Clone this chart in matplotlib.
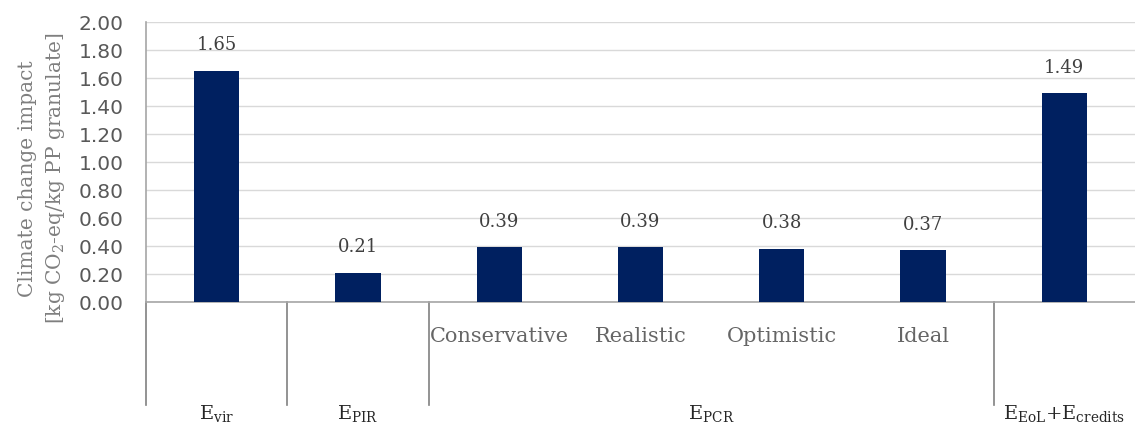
import matplotlib.pyplot as plt
from matplotlib.transforms import blended_transform_factory

plt.rcParams['font.family'] = ['DejaVu Serif']
plt.rcParams['mathtext.fontset'] = 'dejavuserif'

# data
sub_labels = ['', '', 'Conservative', 'Realistic', 'Optimistic', 'Ideal', '']
group_labels = [r'E$_{\mathrm{vir}}$', r'E$_{\mathrm{PIR}}$', r'E$_{\mathrm{PCR}}$',
                r'E$_{\mathrm{EoL}}$+E$_{\mathrm{credits}}$']
group_spans = [(0, 0), (1, 1), (2, 5), (6, 6)]
values = [1.65, 0.21, 0.39, 0.39, 0.38, 0.37, 1.49]
value_text = ['1.65', '0.21', '0.39', '0.39', '0.38', '0.37', '1.49']
yticks = [0.0, 0.2, 0.4, 0.6, 0.8, 1.0, 1.2, 1.4, 1.6, 1.8, 2.0]

bar_color = '#002060'
line_gray = '#a6a6a6'

fig = plt.figure(figsize=(11.35, 4.25), dpi=100)
ax = fig.add_axes([146 / 1135, (425 - 302) / 425, 1 - 146 / 1135, 280 / 425])

x = list(range(len(values)))
ax.bar(x, values, width=0.32, color=bar_color, zorder=3)
for xi, v, t in zip(x, values, value_text):
    ax.annotate(t, (xi, v), xytext=(0, 12), textcoords='offset points',
                ha='center', va='bottom', fontsize=13, color='#404040')

ax.set_xlim(-0.5, len(values) - 0.5)
ax.set_ylim(0, 2.0)
ax.set_yticks(yticks)
ax.set_yticklabels([f'{t:.2f}' for t in yticks], family='DejaVu Sans',
                   fontsize=14.5, color='#595959')
ax.tick_params(axis='y', length=0, pad=16)
ax.set_xticks([])
ax.grid(axis='y', color='#d9d9d9', linewidth=1, zorder=0)
for s in ['top', 'right']:
    ax.spines[s].set_visible(False)
ax.spines['left'].set_color(line_gray)
ax.spines['bottom'].set_color(line_gray)
ax.spines['left'].set_linewidth(1.2)
ax.spines['bottom'].set_linewidth(1.2)

ax.set_ylabel('Climate change impact\n[kg CO$_2$-eq/kg PP granulate]',
              fontsize=14.5, color='#7f7f7f', linespacing=1.4, va='center')
ax.yaxis.set_label_coords(-0.105, 0.44)

trans = blended_transform_factory(ax.transData, ax.transAxes)
bottom = -103 / 280
# separators between groups
seps = [group_spans[0][0] - 0.5] + [end + 0.5 for _, end in group_spans[:-1]]
for sx in seps:
    ax.plot([sx, sx], [0, bottom], transform=trans, color='#808080',
            linewidth=1.2, clip_on=False)

for xi, lab in zip(x, sub_labels):
    if lab:
        ax.text(xi, -35 / 280, lab, transform=trans, ha='center', va='center',
                fontsize=15, color='#666666')

for (a, b), lab in zip(group_spans, group_labels):
    ax.text((a + b) / 2, -112 / 280, lab, transform=trans, ha='center',
            va='center', fontsize=14, color='#262626')

fig.savefig('out.png', dpi=100)
